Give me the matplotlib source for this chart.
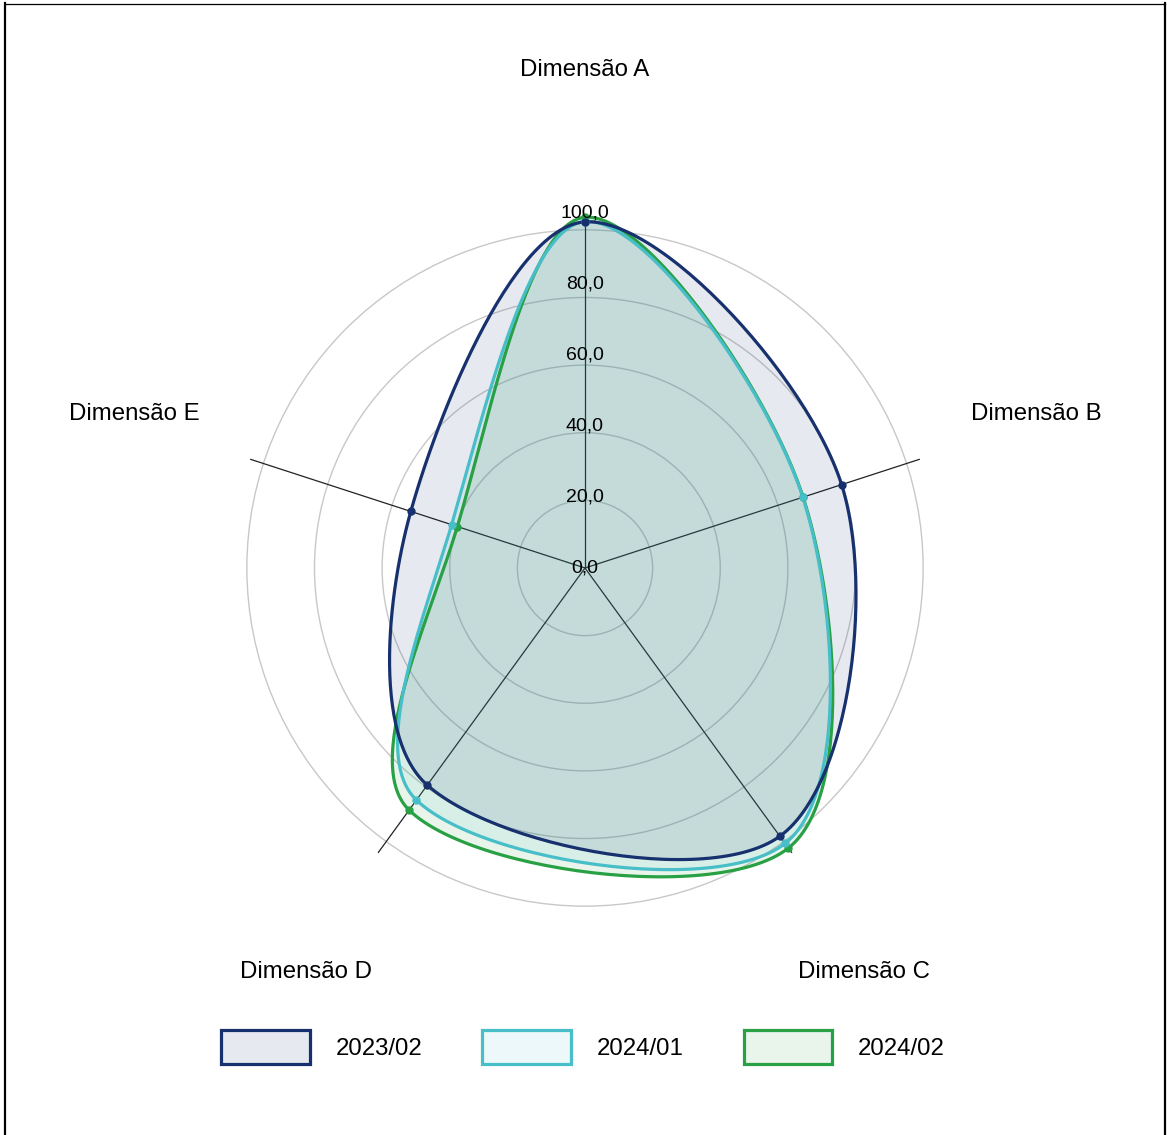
import matplotlib.pyplot as plt
import numpy as np
from matplotlib.patches import Patch, Circle
from matplotlib.lines import Line2D
from matplotlib.colors import to_rgba

plt.rcParams['font.family'] = ['Liberation Sans', 'DejaVu Sans']

dimensions = ['Dimensão A', 'Dimensão B', 'Dimensão C', 'Dimensão D', 'Dimensão E']
periods = ['2023/02', '2024/01', '2024/02']
values_2023_02 = [97.5, 76.0, 93.4, 75.6, 51.6]
values_2024_01 = [97.6, 64.5, 95.9, 80.8, 39.5]
values_2024_02 = [98.8, 64.6, 97.5, 84.3, 37.8]
ticks = [0, 20, 40, 60, 80, 100]

series = [values_2023_02, values_2024_01, values_2024_02]
colors = ['#17306e', '#47bec8', '#28a044']

# layout (px -> data units)
ppu = 3.55
ring_step = 19.05
label_pos = [(0, 140.3), (127.0, 43.4), (78.6, -113.8), (-78.6, -113.8), (-127.0, 43.4)]


def closed_spline(x, y, tension=0.34, steps=60):
    pts = np.column_stack([x, y])
    n = len(pts)
    cp_prev = np.zeros_like(pts)
    cp_next = np.zeros_like(pts)
    for i in range(n):
        p0, p1, p2 = pts[i - 1], pts[i], pts[(i + 1) % n]
        d01 = np.hypot(*(p1 - p0))
        d12 = np.hypot(*(p2 - p1))
        s01 = d01 / (d01 + d12)
        s12 = d12 / (d01 + d12)
        cp_prev[i] = p1 - tension * s01 * (p2 - p0)
        cp_next[i] = p1 + tension * s12 * (p2 - p0)
    t = np.linspace(0, 1, steps)[:, None]
    segs = []
    for i in range(n):
        a, b, c, d = pts[i], cp_next[i], cp_prev[(i + 1) % n], pts[(i + 1) % n]
        seg = (1 - t)**3 * a + 3 * (1 - t)**2 * t * b + 3 * (1 - t) * t**2 * c + t**3 * d
        segs.append(seg[:-1])
    out = np.vstack(segs + [pts[:1]])
    return out[:, 0], out[:, 1]


fig = plt.figure(figsize=(11.67, 11.35), dpi=100)
ax = fig.add_axes([0, 0, 1, 1])
ax.set_xlim(-585 / ppu, 582 / ppu)
ax.set_ylim(-567 / ppu, 568 / ppu)
ax.axis('off')

theta = np.deg2rad(90 - 72 * np.arange(len(dimensions)))

for k in range(1, 6):
    ax.add_patch(Circle((0, 0), ring_step * k, fill=False, ec='#c8c8c8', lw=1, zorder=1))

for th in theta:
    ax.plot([0, 99 * np.cos(th)], [0, 99 * np.sin(th)], color='#222222', lw=0.9, zorder=2)

for idx in reversed(range(len(series))):
    vals = np.array(series[idx])
    px = vals * np.cos(theta)
    py = vals * np.sin(theta)
    sx, sy = closed_spline(px, py)
    ax.fill(sx, sy, color=colors[idx], alpha=0.1, lw=0, zorder=3)
    ax.plot(sx, sy, color=colors[idx], lw=2.3, zorder=4)
    ax.plot(px, py, 'o', ms=5, color=colors[idx], zorder=5)

for v in ticks:
    ax.text(0, v, f'{v:.1f}'.replace('.', ','), ha='center', va='center',
            fontsize=14, zorder=10)

for name, (lx, ly) in zip(dimensions, label_pos):
    ax.text(lx, ly, name, ha='center', va='center', fontsize=17.3)

handles = [Patch(facecolor=to_rgba(c, 0.1), edgecolor=c, lw=2.3) for c in colors]
fig.legend(handles, periods, loc='center', bbox_to_anchor=(583 / 1167, 1 - 1047 / 1135),
           ncol=3, frameon=False, fontsize=17.3, handlelength=3.67, handleheight=1.75,
           handletextpad=1.08, columnspacing=2.5)

# outer frame
W, H = 1167, 1135
fig.add_artist(Line2D([5 / W, 5 / W], [0, 1 - 3 / H], color='black', lw=1.6))
fig.add_artist(Line2D([5 / W, 1165 / W], [1 - 3.5 / H, 1 - 3.5 / H], color='black', lw=0.9))
fig.add_artist(Line2D([1165 / W, 1165 / W], [0, 1 - 3 / H], color='black', lw=1.6))

fig.savefig('out.png', dpi=100)
